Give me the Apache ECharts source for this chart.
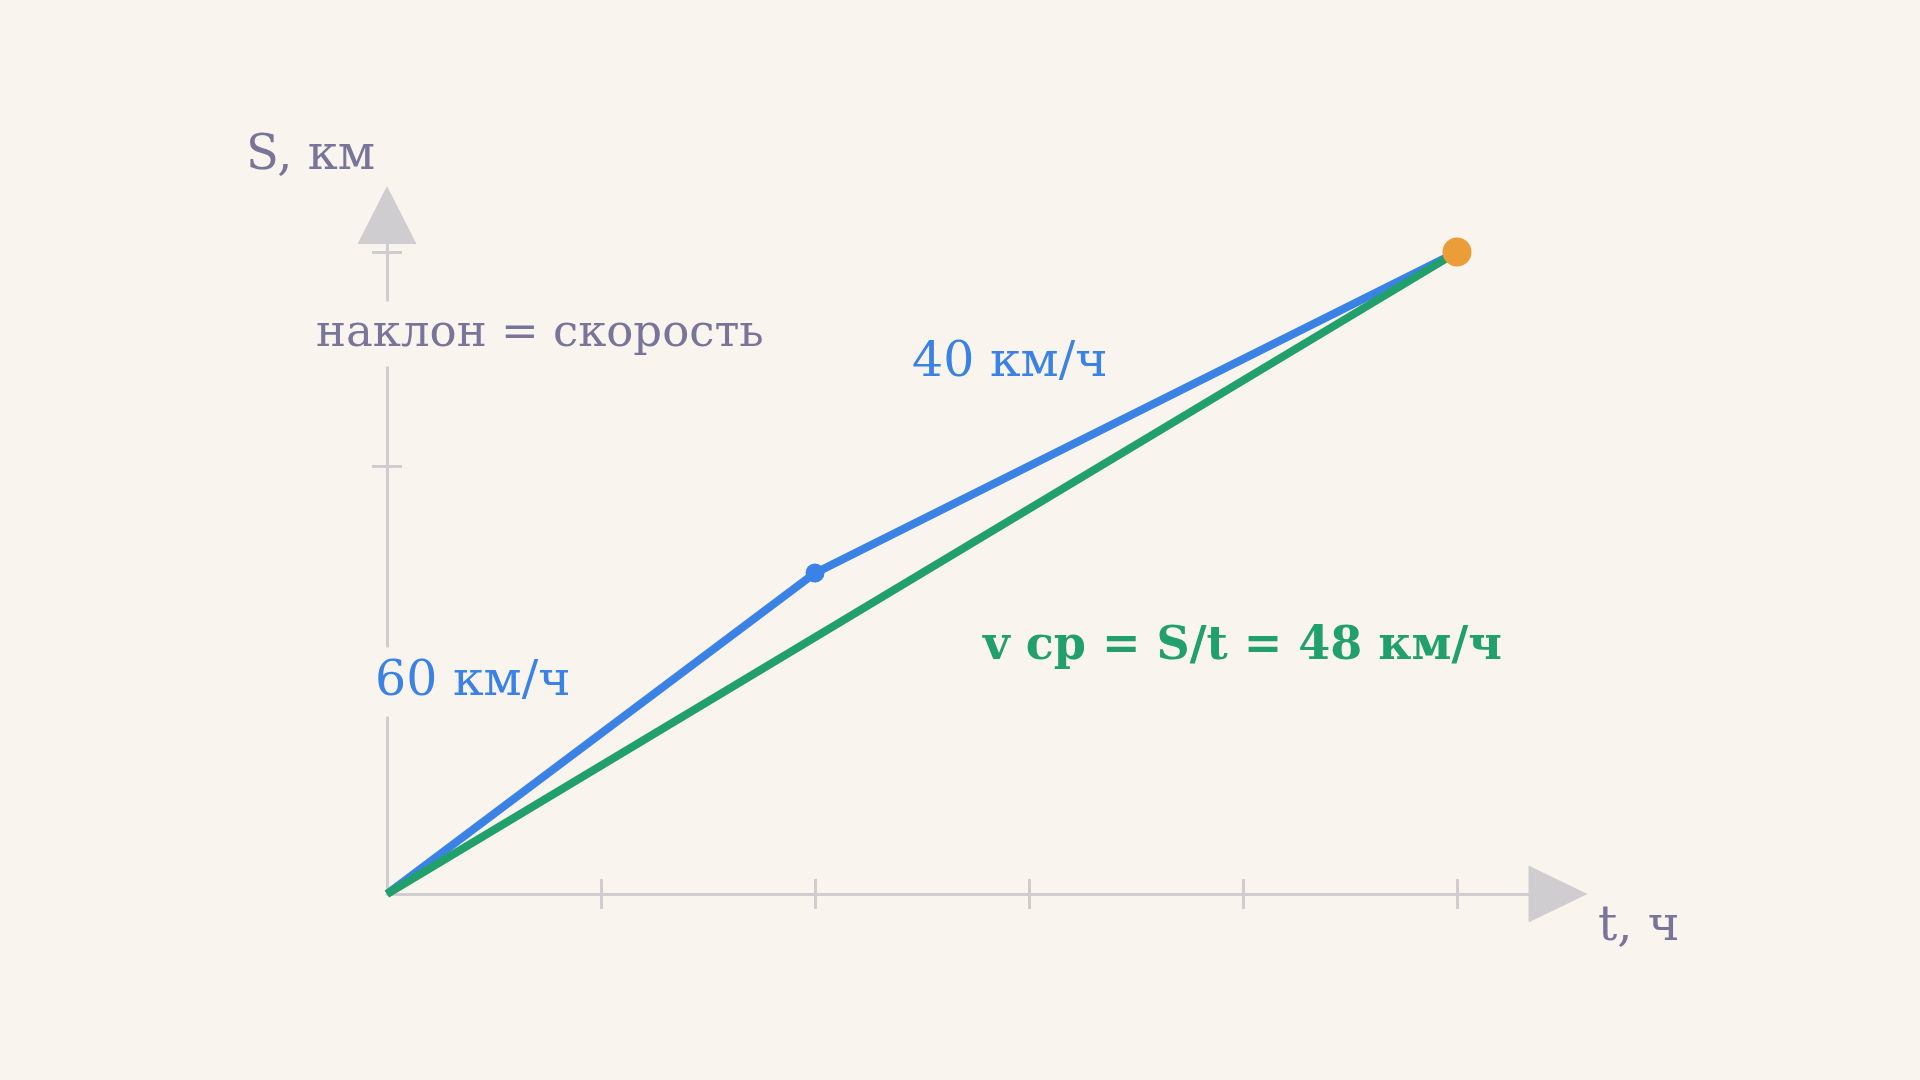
<!DOCTYPE html>
<html>
<head>
<meta charset="utf-8">
<title>Средняя скорость</title>
<script src="https://cdn.jsdelivr.net/npm/echarts@6/dist/echarts.min.js"></script>
<style>
  html, body { margin: 0; padding: 0; background: #faf4ee; }
  #chart { width: 1920px; height: 1080px; }
</style>
</head>
<body>
<div id="chart"></div>
<script>
// путь: 2 ч по 60 км/ч, затем 3 ч по 40 км/ч
const hours = [0, 2, 5]
const distance = [0, 120, 240]
const avgHours = [0, 5]
const avgDistance = [0, 240]
const timeTicks = [1, 2, 3, 4, 5]
const distanceTicks = [80, 160, 240]

const bg = '#faf4ee'
const axisGray = '#cfcdd0'
const textGray = '#79759a'
const blue = '#3a82e6'
const green = '#22a06b'
const orange = '#eb9e38'
const serif = '"DejaVu Serif", "Liberation Serif", serif'

const pairs = (xs, ys) => xs.map((x, i) => [x, ys[i]])

const chart = echarts.init(document.getElementById('chart'))

const axisBase = {
  type: 'value',
  axisLabel: { show: false },
  splitLine: { show: false }
}

chart.setOption({
  backgroundColor: bg,
  animation: false,
  grid: { left: 387, top: 212, width: 1177, height: 682 },
  xAxis: [{
    ...axisBase,
    min: 0,
    max: 5.5,
    position: 'bottom',
    name: 't, ч',
    nameGap: 34,
    nameTextStyle: {
      color: textGray, fontFamily: serif, fontSize: 48,
      align: 'left', verticalAlign: 'top', padding: [10, 0, 0, 0]
    },
    axisLine: {
      lineStyle: { color: axisGray, width: 3 },
      symbol: ['none', 'triangle'],
      symbolSize: [57, 59],
      symbolOffset: [0, -6]
    },
    axisTick: { length: 15, lineStyle: { color: axisGray, width: 3 }, customValues: timeTicks }
  }, {
    ...axisBase,
    min: 0,
    max: 5.5,
    position: 'bottom',
    axisLine: { show: false },
    axisTick: { inside: true, length: 15, lineStyle: { color: axisGray, width: 3 }, customValues: timeTicks }
  }],
  yAxis: [{
    ...axisBase,
    min: 0,
    max: 255,
    position: 'left',
    name: 'S, км',
    nameGap: 55,
    nameTextStyle: {
      color: textGray, fontFamily: serif, fontSize: 48,
      align: 'right', verticalAlign: 'middle', padding: [0, 12, 0, 0]
    },
    axisLine: {
      lineStyle: { color: axisGray, width: 3 },
      symbol: ['none', 'triangle'],
      symbolSize: [59, 58],
      symbolOffset: [0, -3]
    },
    axisTick: { length: 15, lineStyle: { color: axisGray, width: 3 }, customValues: distanceTicks }
  }, {
    ...axisBase,
    min: 0,
    max: 255,
    position: 'left',
    axisLine: { show: false },
    axisTick: { inside: true, length: 15, lineStyle: { color: axisGray, width: 3 }, customValues: distanceTicks }
  }],
  series: [{
    name: 'путь',
    type: 'line',
    data: pairs(hours, distance),
    showSymbol: false,
    lineStyle: { color: blue, width: 8 },
    z: 2
  }, {
    name: 'смена скорости',
    type: 'scatter',
    data: [[hours[1], distance[1]]],
    symbolSize: 19,
    itemStyle: { color: blue, opacity: 1 },
    z: 3
  }, {
    name: 'средняя',
    type: 'line',
    data: pairs(avgHours, avgDistance),
    showSymbol: false,
    lineStyle: { color: green, width: 8 },
    z: 4
  }, {
    name: 'финиш',
    type: 'scatter',
    data: [[hours[2], distance[2]]],
    symbolSize: 29,
    itemStyle: { color: orange, opacity: 1 },
    z: 5
  }],
  graphic: [{
    type: 'text', x: 300, y: 334, z: 10,
    style: {
      text: 'наклон = скорость', fill: textGray, font: '45px ' + serif,
      verticalAlign: 'middle', backgroundColor: bg, padding: [10, 16]
    }
  }, {
    type: 'text', x: 912, y: 363, z: 10,
    style: { text: '40 км/ч', fill: blue, font: '49px ' + serif, verticalAlign: 'middle' }
  }, {
    type: 'text', x: 355, y: 682, z: 10,
    style: {
      text: '60 км/ч', fill: blue, font: '49px ' + serif,
      verticalAlign: 'middle', backgroundColor: bg, padding: [10, 20]
    }
  }, {
    type: 'text', x: 983, y: 647, z: 10,
    style: { text: 'v ср = S/t = 48 км/ч', fill: green, font: 'bold 46px ' + serif, verticalAlign: 'middle' }
  }]
})
</script>
</body>
</html>
